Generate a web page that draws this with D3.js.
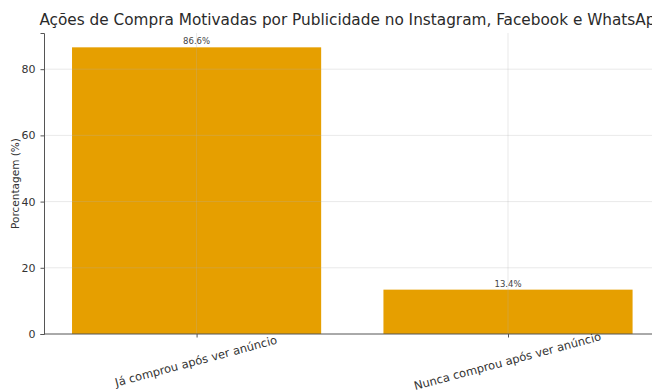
<!DOCTYPE html>
<html>
<head>
<meta charset="utf-8">
<script src="https://cdn.jsdelivr.net/npm/d3@7"></script>
<style>
  body { margin: 0; background: #fff; }
  svg text { font-family: "DejaVu Sans", sans-serif; }
</style>
</head>
<body>
<div id="chart"></div>
<script>
var categories = ["Já comprou após ver anúncio", "Nunca comprou após ver anúncio"];
var values = [86.6, 13.4];
var y_ticks = [0, 20, 40, 60, 80];
var title = "Ações de Compra Motivadas por Publicidade no Instagram, Facebook e WhatsApp";

var width = 652, height = 392;
var svg = d3.select("#chart").append("svg")
    .attr("width", width)
    .attr("height", height);

// bar positions like matplotlib: index +- 0.4, 5% margins
var x = d3.scaleLinear().domain([-0.49, categories.length - 1 + 0.49]).range([44, 660.6]);
var y = d3.scaleLinear().domain([0, d3.max(values) * 1.05]).range([334, 33]);

// bars
svg.selectAll(".bar")
    .data(values)
    .enter().append("rect")
    .attr("class", "bar")
    .attr("x", (d, i) => x(i - 0.4))
    .attr("width", x(0.4) - x(-0.4))
    .attr("y", d => y(d))
    .attr("height", d => y(0) - y(d))
    .style("fill", "#E69F00");

// grid on top, faint
var grid = svg.append("g").attr("class", "grid");
grid.selectAll(".hgrid")
    .data(y_ticks.slice(1))
    .enter().append("line")
    .attr("x1", x.range()[0]).attr("x2", x.range()[1])
    .attr("y1", d => y(d)).attr("y2", d => y(d))
    .style("stroke", "#b0b0b0")
    .style("stroke-opacity", 0.35)
    .style("stroke-width", 0.8);
grid.selectAll(".vgrid")
    .data(categories)
    .enter().append("line")
    .attr("x1", (d, i) => x(i)).attr("x2", (d, i) => x(i))
    .attr("y1", y.range()[1]).attr("y2", y(0))
    .style("stroke", "#b0b0b0")
    .style("stroke-opacity", 0.35)
    .style("stroke-width", 0.8);

// y axis
var yAxis = svg.append("g")
    .attr("transform", "translate(" + x.range()[0] + ",0)")
    .call(d3.axisLeft(y).tickValues(y_ticks).tickSize(3.5).tickPadding(5));
yAxis.select(".domain").style("stroke", "#555");
yAxis.selectAll(".tick line").style("stroke", "#555");
yAxis.selectAll("text").style("font-size", "11px").style("fill", "#333");

// x axis
var xAxis = svg.append("g")
    .attr("transform", "translate(0," + y(0) + ")")
    .call(d3.axisBottom(x).tickValues(d3.range(categories.length))
          .tickFormat(i => categories[i]).tickSize(3.5).tickSizeOuter(0));
xAxis.select(".domain").attr("d", "M" + x.range()[0] + ",0H" + x.range()[1]).style("stroke", "#555");
xAxis.selectAll(".tick line").style("stroke", "#555");
xAxis.selectAll("text")
    .style("font-size", "11.5px")
    .style("fill", "#333")
    .attr("text-anchor", "middle")
    .attr("dy", null)
    .attr("y", 0)
    .attr("transform", "translate(0,31) rotate(-15)");

// value labels
svg.selectAll(".vlabel")
    .data(values)
    .enter().append("text")
    .attr("class", "vlabel")
    .attr("x", (d, i) => x(i))
    .attr("y", d => y(d) - 3)
    .attr("text-anchor", "middle")
    .style("font-size", "8.5px")
    .style("fill", "#444")
    .text(d => d.toFixed(1) + "%");

// y label
svg.append("text")
    .attr("transform", "translate(19," + (y.range()[0] + y.range()[1]) / 2 + ") rotate(-90)")
    .attr("text-anchor", "middle")
    .style("font-size", "10.5px")
    .style("fill", "#333")
    .text("Porcentagem (%)");

// title
svg.append("text")
    .attr("x", (x.range()[0] + x.range()[1]) / 2)
    .attr("y", 25)
    .attr("text-anchor", "middle")
    .style("font-size", "15.3px")
    .style("fill", "#2a2a2a")
    .text(title);
</script>
</body>
</html>
